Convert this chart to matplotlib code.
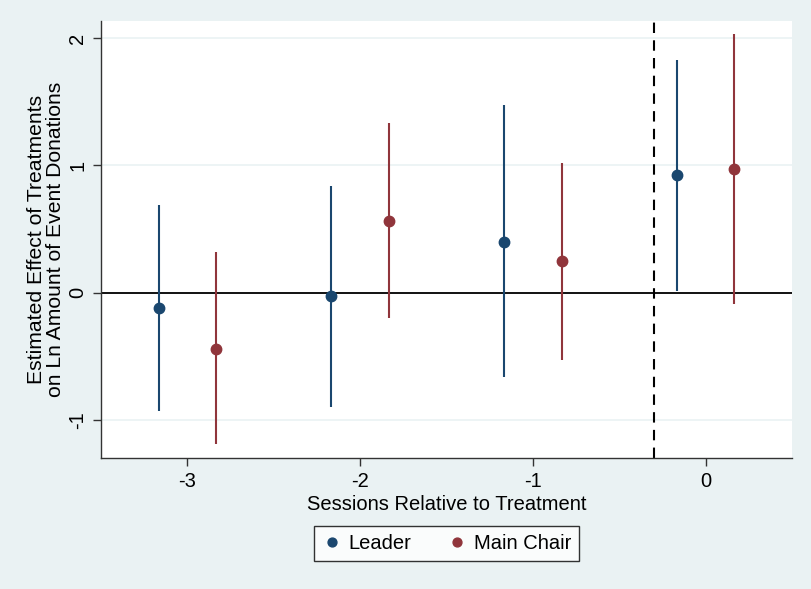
import matplotlib
matplotlib.use('Agg')
import matplotlib.pyplot as plt
import numpy as np

plt.rcParams['font.family'] = ['Liberation Sans', 'DejaVu Sans']
plt.rcParams['axes.unicode_minus'] = False

# sessions relative to treatment
sessions = [-3, -2, -1, 0]

# Leader estimates and 95% CIs
leader_est = [-0.12, -0.03, 0.40, 0.92]
leader_lo = [-0.93, -0.90, -0.66, 0.01]
leader_hi = [0.69, 0.84, 1.47, 1.83]

# Main Chair estimates and 95% CIs
chair_est = [-0.44, 0.56, 0.245, 0.97]
chair_lo = [-1.19, -0.20, -0.53, -0.09]
chair_hi = [0.32, 1.33, 1.02, 2.03]

NAVY = '#1a476f'
MAROON = '#90353b'
BG = '#eaf2f3'
FS = 14.5

fig = plt.figure(figsize=(8.11, 5.89), dpi=100, facecolor=BG)
ax = fig.add_axes([101 / 811, 1 - 458 / 589, 691 / 811, 437 / 589])
ax.set_facecolor('white')

off = 0.167
x = np.array(sessions, dtype=float)
ax.vlines(x - off, leader_lo, leader_hi, color=NAVY, lw=1.5, zorder=3)
ax.vlines(x + off, chair_lo, chair_hi, color=MAROON, lw=1.5, zorder=3)
ax.plot(x - off, leader_est, 'o', color=NAVY, ms=7.5, zorder=4, label='Leader')
ax.plot(x + off, chair_est, 'o', color=MAROON, ms=7.5, zorder=4, label='Main Chair')

ax.axhline(0, color='black', lw=1.3, zorder=2)
ax.axvline(-0.30, color='black', lw=1.5, ls=(0, (5, 3.5)), zorder=2)

ax.set_xlim(-3.5, 0.5)
ax.set_ylim(-1.30, 2.134)
ax.set_xticks(sessions)
ax.set_yticks([-1, 0, 1, 2])
ax.grid(axis='y', color=BG, lw=1.2, zorder=0)
ax.set_axisbelow(True)

for s in ['top', 'right']:
    ax.spines[s].set_visible(False)
for s in ['left', 'bottom']:
    ax.spines[s].set_color('#333333')
    ax.spines[s].set_linewidth(1.0)

ax.tick_params(axis='both', labelsize=FS, length=6, width=1, color='#333333', pad=4)
for lab in ax.get_yticklabels():
    lab.set_rotation(90)
    lab.set_va('center')

ax.set_xlabel('Sessions Relative to Treatment', fontsize=FS, labelpad=3)
ax.set_ylabel('Estimated Effect of Treatments\non Ln Amount of Event Donations',
              fontsize=15.2, labelpad=2, linespacing=1.05)

leg = fig.legend(loc='center', bbox_to_anchor=(446.5 / 811, 1 - 543.5 / 589), ncol=2,
                 fontsize=FS, frameon=True, fancybox=False, edgecolor='black',
                 handletextpad=0.3, columnspacing=1.8, borderpad=0.4,
                 handlelength=1.0, markerscale=0.85)
leg.get_frame().set_linewidth(1.0)

fig.savefig('out.png', dpi=100, facecolor=BG)
